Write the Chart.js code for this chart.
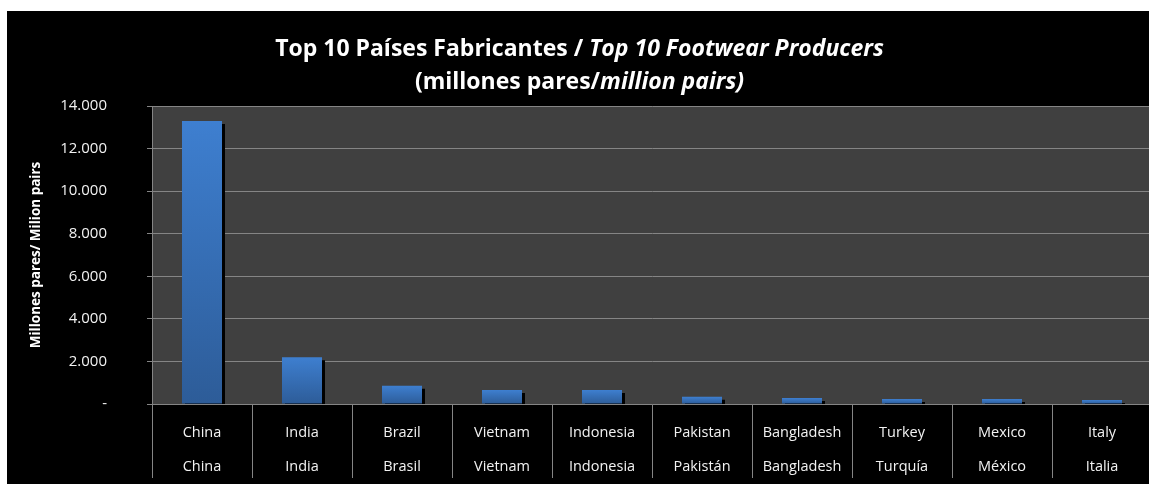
<!DOCTYPE html>
<html lang="es">
<head>
<meta charset="UTF-8">
<title>Top 10 Footwear Producers</title>
<script src="https://cdn.jsdelivr.net/npm/chart.js"></script>
<style>
    html, body { margin: 0; padding: 0; background: #ffffff; overflow: hidden; }
    #wrap {
        position: absolute; left: 7px; top: 11px;
        width: 1145px; height: 473px;
        background: #000000;
    }
    #title {
        position: absolute; left: 0; right: 0; top: 20px;
        text-align: center; color: #ffffff;
        font-family: "Open Sans", Lato, sans-serif; font-weight: bold;
        font-size: 23px; line-height: 33px;
    }
    #title i { font-style: italic; }
    canvas { position: absolute; left: 0; top: 0; }
</style>
</head>
<body>
<div id="wrap">
    <canvas id="footwearChart" width="1145" height="473"></canvas>
    <div id="title">Top 10 Países Fabricantes / <i>Top 10 Footwear Producers</i><br>(millones pares/<i>million pairs)</i></div>
</div>

<script>
// data (million pairs)
var countriesEn = ['China', 'India', 'Brazil', 'Vietnam', 'Indonesia', 'Pakistan', 'Bangladesh', 'Turkey', 'Mexico', 'Italy'];
var countriesEs = ['China', 'India', 'Brasil', 'Vietnam', 'Indonesia', 'Pakistán', 'Bangladesh', 'Turquía', 'México', 'Italia'];
var pairs = [13300, 2200, 860, 660, 660, 340, 280, 240, 240, 190];

var gridGrey = '#858585';
var fontFamily = '"Open Sans", Lato, sans-serif';

// per-bar gradient, lighter on top
function barGradient(context) {
    var chart = context.chart;
    if (!chart.chartArea) return '#3a74c2';
    var y = chart.scales.y;
    var top = y.getPixelForValue(context.raw);
    var bottom = y.getPixelForValue(0);
    if (bottom - top < 1) return '#3a74c2';
    var g = chart.ctx.createLinearGradient(0, top, 0, bottom);
    g.addColorStop(0, '#3e7fd0');
    g.addColorStop(1, '#2d5c98');
    return g;
}

var plotBackground = {
    id: 'plotBackground',
    beforeDraw: function(chart) {
        var a = chart.chartArea;
        chart.ctx.save();
        chart.ctx.fillStyle = '#404040';
        chart.ctx.fillRect(a.left, a.top, a.right - a.left, a.bottom - a.top);
        chart.ctx.restore();
    }
};

var barShadow = {
    id: 'barShadow',
    beforeDatasetsDraw: function(chart) {
        var ctx = chart.ctx;
        ctx.save();
        ctx.shadowColor = '#000000';
        ctx.shadowOffsetX = 3;
        ctx.shadowOffsetY = 3;
        ctx.shadowBlur = 0;
    },
    afterDatasetsDraw: function(chart) {
        chart.ctx.restore();
    }
};

var labels = countriesEn.map(function(en, i) { return [en, countriesEs[i]]; });

var ctx = document.getElementById('footwearChart').getContext('2d');
var footwearChart = new Chart(ctx, {
    type: 'bar',
    data: {
        labels: labels,
        datasets: [{
            data: pairs,
            backgroundColor: barGradient,
            borderWidth: 0,
            barPercentage: 0.4,
            categoryPercentage: 1.0
        }]
    },
    options: {
        responsive: false,
        animation: false,
        layout: { padding: { top: 95, left: 0, right: 0, bottom: 0 } },
        plugins: {
            legend: { display: false },
            tooltip: { enabled: false },
            title: { display: false }
        },
        scales: {
            x: {
                grid: {
                    display: true,
                    drawOnChartArea: false,
                    offset: true,
                    tickLength: 74,
                    color: gridGrey
                },
                border: { display: true, color: gridGrey },
                ticks: {
                    color: '#f2f2f2',
                    padding: -62,
                    maxRotation: 0,
                    autoSkip: false,
                    font: { family: fontFamily, size: 14.5, lineHeight: 34 / 14.5 }
                },
                afterFit: function(scale) { scale.height = 80; }
            },
            y: {
                min: 0,
                max: 14000,
                ticks: {
                    stepSize: 2000,
                    color: '#f2f2f2',
                    padding: 40,
                    font: { family: fontFamily, size: 15 },
                    callback: function(v) {
                        if (v === 0) return '-';
                        return String(v).replace(/\B(?=(\d{3})+(?!\d))/g, '.');
                    }
                },
                grid: { color: gridGrey, tickLength: 5 },
                border: { display: true, color: gridGrey },
                title: {
                    display: true,
                    text: 'Millones pares/ Milion pairs',
                    color: '#ffffff',
                    font: { family: fontFamily, size: 13.5, weight: 'bold' },
                    padding: { top: 21, bottom: 0 }
                },
                afterFit: function(scale) { scale.width = 145; }
            }
        }
    },
    plugins: [plotBackground, barShadow]
});
</script>
</body>
</html>
